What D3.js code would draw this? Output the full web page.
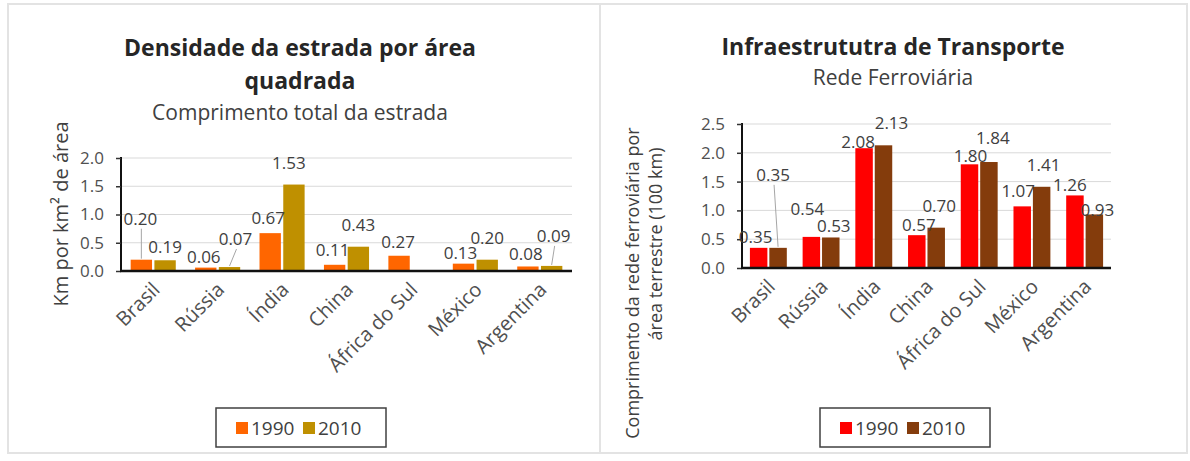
<!DOCTYPE html>
<html>
<head>
<meta charset="utf-8">
<script src="https://cdn.jsdelivr.net/npm/d3@7"></script>
<style>
  body { margin: 0; background: #fff; }
  svg text { font-family: "Open Sans", "Noto Sans", sans-serif; }
</style>
</head>
<body>
<svg id="chart" width="1190" height="461"></svg>
<script>
// data
const countries = ["Brasil", "Rússia", "Índia", "China", "África do Sul", "México", "Argentina"]
const years = ["1990", "2010"]

const road1990 = [0.20, 0.06, 0.67, 0.11, 0.27, 0.13, 0.08]
const road2010 = [0.19, 0.07, 1.53, 0.43, null, 0.20, 0.09]
const roadTicks = [0.0, 0.5, 1.0, 1.5, 2.0]

const rail1990 = [0.35, 0.54, 2.08, 0.57, 1.80, 1.07, 1.26]
const rail2010 = [0.35, 0.53, 2.13, 0.70, 1.84, 1.41, 0.93]
const railTicks = [0.0, 0.5, 1.0, 1.5, 2.0, 2.5]

// the hand-moved data labels of the original (dx, dy, leader line)
const roadShift1990 = [[-1, -29, 1], [-2, 1], [-2, -3], [-2, -3], [-1, -2], [-3, 1], [-2, 0]]
const roadShift2010 = [[0, -1], [6, -16, 1], [-5, -10], [0, -10], [0, 0], [0, -10], [2, -18, 1]]
const railShift1990 = [[-3, 1], [-4, -16], [-6, 6], [2, 2], [1, 4], [-4, -3], [-5, 2]]
const railShift2010 = [[-5, -61, 1], [3, 1], [8, -10], [3, -10], [4, -12], [2, -10], [3, 8]]

const svg = d3.select('svg#chart')

// panel frames
svg.append('rect').attr('x', 8).attr('y', 4).attr('width', 592).attr('height', 449)
    .attr('fill', 'none').attr('stroke', '#e3e3e3').attr('stroke-width', 2)
svg.append('rect').attr('x', 600).attr('y', 4).attr('width', 587).attr('height', 449)
    .attr('fill', 'none').attr('stroke', '#e3e3e3').attr('stroke-width', 2)

function drawChart(cfg) {
    const g = svg.append('g')

    const x = d3.scaleBand().domain(countries).range(cfg.xRange)
        .paddingInner(0.3).paddingOuter(0.15)
    const xIn = d3.scaleBand().domain(years).range([0, x.bandwidth()]).paddingInner(0.1)
    const y = d3.scaleLinear().domain([0, d3.max(cfg.ticks)]).range(cfg.yRange)

    // grid
    g.selectAll('.grid').data(cfg.ticks.slice(1)).enter().append('line')
        .attr('x1', cfg.xRange[0]).attr('x2', cfg.xRange[1])
        .attr('y1', d => y(d)).attr('y2', d => y(d))
        .attr('stroke', '#d9d9d9').attr('stroke-width', 1)

    // y axis
    const yAxis = g.append('g').attr('transform', 'translate(' + cfg.xRange[0] + ',0)')
        .call(d3.axisLeft(y).tickValues(cfg.ticks).tickFormat(d3.format('.1f')).tickSize(5).tickPadding(12))
    yAxis.select('.domain').attr('stroke', '#111').attr('stroke-width', 2)
        .attr('d', 'M0,' + y(0) + 'V' + (y(d3.max(cfg.ticks)) - 1))
    yAxis.selectAll('.tick line').attr('stroke', '#333').attr('stroke-width', 1.5)
    yAxis.selectAll('.tick text').attr('fill', '#505050').style('font-size', '17px')

    // bars (one entry per country and year, gaps left out)
    const series = [cfg.s1990, cfg.s2010]
    series.forEach(function (vals, si) {
        const pts = vals.map((v, i) => ({ v: v, c: countries[i] })).filter(p => p.v !== null)
        g.selectAll('.bar' + si).data(pts).enter()
            .append('rect')
            .attr('x', d => x(d.c) + xIn(years[si]))
            .attr('y', d => y(d.v))
            .attr('width', xIn.bandwidth())
            .attr('height', d => y(0) - y(d.v))
            .attr('fill', cfg.colors[si])
    })

    // x axis line
    g.append('line').attr('x1', cfg.xRange[0] - 1).attr('x2', cfg.xRange[1])
        .attr('y1', y(0)).attr('y2', y(0)).attr('stroke', '#111').attr('stroke-width', 2.5)

    // category labels
    g.selectAll('.cat').data(countries).enter().append('text')
        .attr('transform', d => 'translate(' + (x(d) + x.bandwidth() / 2 + 3) + ',' + (y(0) + 15) + ') rotate(-45)')
        .attr('text-anchor', 'end').attr('dy', '0.35em')
        .attr('fill', '#505050').style('font-size', '20px')
        .text(d => d)

    // data labels
    series.forEach(function (vals, si) {
        const shift = cfg.shifts[si]
        vals.forEach(function (v, i) {
            if (v === null) return
            const cx = x(countries[i]) + xIn(years[si]) + xIn.bandwidth() / 2
            const lx = cx + shift[i][0]
            const ly = y(v) - 12 + shift[i][1]
            if (shift[i][2]) {
                g.append('line').attr('x1', lx + 1).attr('x2', cx)
                    .attr('y1', ly + 10).attr('y2', y(v) - 1)
                    .attr('stroke', '#a6a6a6').attr('stroke-width', 1)
            }
            g.append('text').attr('x', lx).attr('y', ly).attr('dy', '0.35em')
                .attr('text-anchor', 'middle').attr('fill', '#404040')
                .style('font-size', '17px')
                .text(d3.format('.2f')(v))
        })
    })

    // titles
    cfg.title.forEach(function (t, i) {
        g.append('text').attr('x', cfg.cx).attr('y', cfg.titleY + i * 33)
            .attr('text-anchor', 'middle').attr('fill', '#262626')
            .style('font-size', '23px').style('font-weight', 'bold').text(t)
    })
    g.append('text').attr('x', cfg.cx).attr('y', cfg.subY)
        .attr('text-anchor', 'middle').attr('fill', '#404040')
        .style('font-size', '21px').text(cfg.subtitle)

    // y title
    cfg.yTitle.forEach(function (t, i) {
        g.append('text')
            .attr('transform', 'translate(' + (cfg.yTitleX + i * 23) + ',' + cfg.yTitleMid[i] + ') rotate(-90)')
            .attr('text-anchor', 'middle').attr('fill', '#404040')
            .style('font-size', cfg.yTitleSize).text(t)
    })

    // legend
    const lg = g.append('g').attr('transform', 'translate(' + cfg.legend[0] + ',' + cfg.legend[1] + ')')
    lg.append('rect').attr('width', 170).attr('height', 39)
        .attr('fill', '#fff').attr('stroke', '#404040').attr('stroke-width', 1.5)
    years.forEach(function (yr, i) {
        lg.append('rect').attr('x', 20 + i * 67).attr('y', 14).attr('width', 12).attr('height', 12)
            .attr('fill', cfg.colors[i])
        lg.append('text').attr('x', 35 + i * 67).attr('y', 20).attr('dy', '0.35em')
            .attr('fill', '#404040').style('font-size', '19px').text(yr)
    })
}

drawChart({
    xRange: [121, 572], yRange: [271, 158], ticks: roadTicks,
    s1990: road1990, s2010: road2010, shifts: [roadShift1990, roadShift2010],
    colors: ['#ff6600', '#bf9000'],
    title: ['Densidade da estrada por área', 'quadrada'], titleY: 56,
    subtitle: 'Comprimento total da estrada', subY: 120, cx: 300,
    yTitle: ['Km por km² de área'], yTitleX: 68, yTitleMid: [214], yTitleSize: '20px',
    legend: [216, 408]
})

drawChart({
    xRange: [742, 1111], yRange: [268, 124], ticks: railTicks,
    s1990: rail1990, s2010: rail2010, shifts: [railShift1990, railShift2010],
    colors: ['#ff0000', '#843c0c'],
    title: ['Infraestrututra de Transporte'], titleY: 55,
    subtitle: 'Rede Ferroviária', subY: 85, cx: 893,
    yTitle: ['Comprimento da rede ferroviária por', 'área terrestre (100 km)'], yTitleX: 639,
    yTitleMid: [283, 244], yTitleSize: '18px',
    legend: [820, 408]
})
</script>
</body>
</html>
